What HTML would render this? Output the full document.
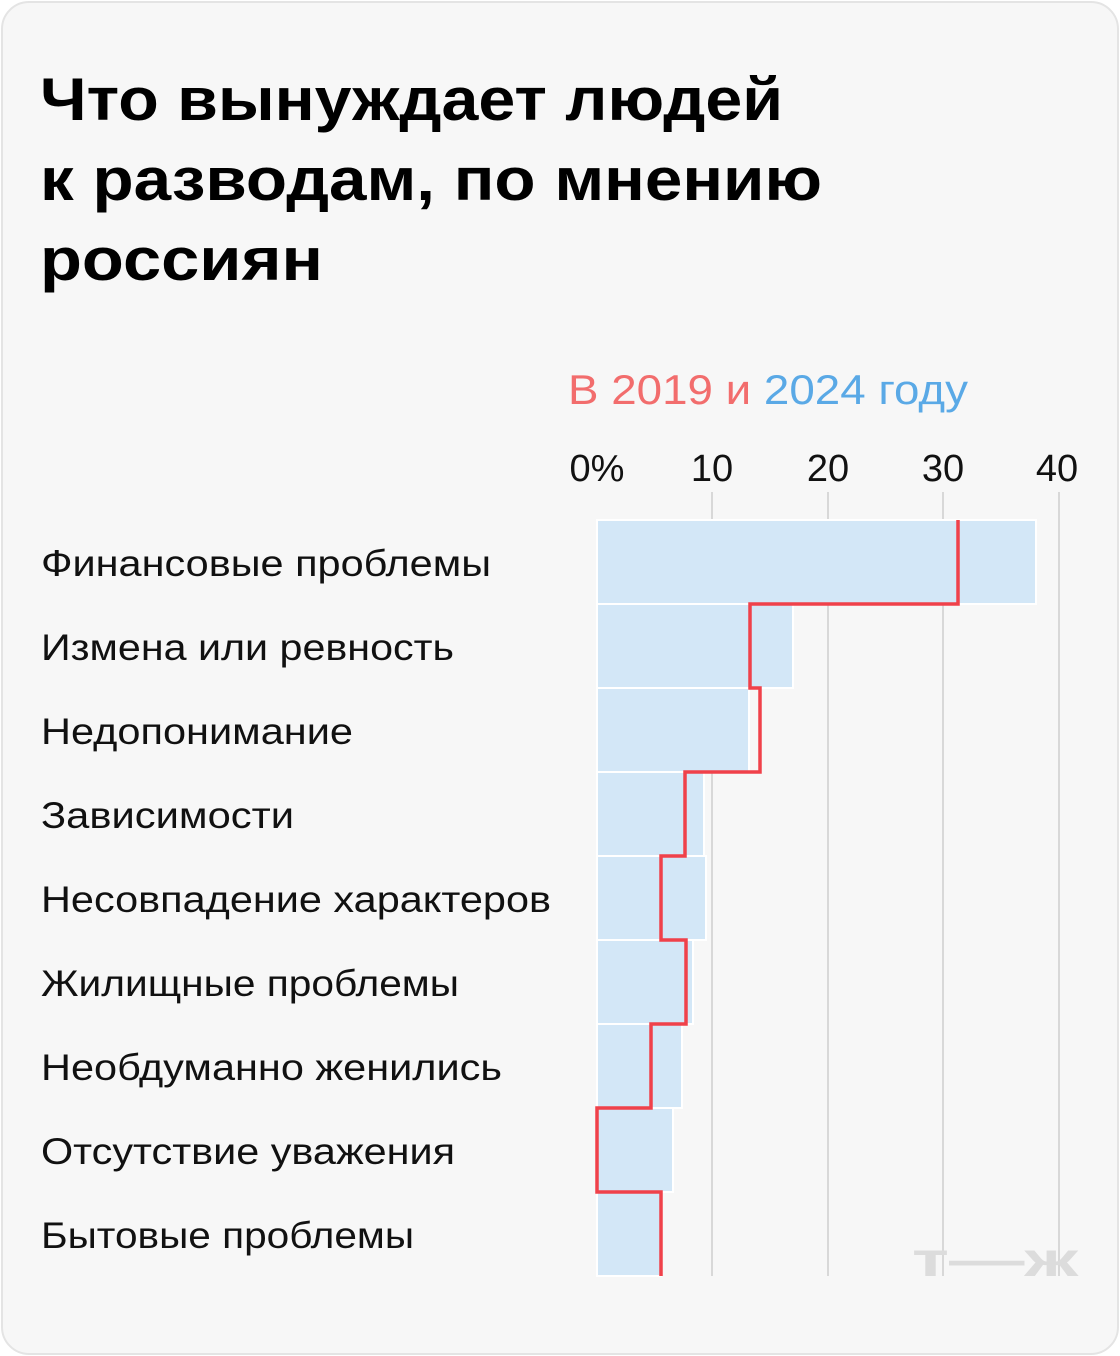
<!DOCTYPE html>
<html><head><meta charset="utf-8"><style>
html,body{margin:0;padding:0;background:#fff;}
.card{position:absolute;left:1px;top:1px;width:1114px;height:1350px;border:2px solid #e4e4e4;border-radius:28px;background:#f7f7f7;overflow:hidden;}
svg{position:absolute;left:0;top:0;}
</style></head><body>
<div class="card"></div>
<svg width="1120" height="1356" xmlns="http://www.w3.org/2000/svg" font-family="Liberation Sans, DejaVu Sans, sans-serif">
<g font-weight="bold" font-size="60" fill="#000" lengthAdjust="spacingAndGlyphs">
<text x="40" y="120" textLength="743" lengthAdjust="spacingAndGlyphs">Что вынуждает людей</text>
<text x="40" y="200" textLength="782" lengthAdjust="spacingAndGlyphs">к разводам, по мнению</text>
<text x="40" y="280" textLength="283" lengthAdjust="spacingAndGlyphs">россиян</text>
</g>
<text x="568" y="404" font-size="42" textLength="400" lengthAdjust="spacingAndGlyphs"><tspan fill="#f26d6d">В 2019 и </tspan><tspan fill="#5aa9e6">2024 году</tspan></text>
<g font-size="38" fill="#111" text-anchor="middle">
<text x="597" y="481">0%</text><text x="712" y="481">10</text><text x="828" y="481">20</text><text x="943" y="481">30</text><text x="1057" y="481">40</text>
</g>
<g stroke="#d8d8d8" stroke-width="2">
<line x1="712" y1="492" x2="712" y2="1276"/><line x1="828" y1="492" x2="828" y2="1276"/><line x1="943" y1="492" x2="943" y2="1276"/><line x1="1059" y1="492" x2="1059" y2="1276"/>
</g>
<g fill="#d3e7f7" stroke="#fff" stroke-width="2">
<rect x="597" y="520" width="439" height="84"/>
<rect x="597" y="604" width="196" height="84"/>
<rect x="597" y="688" width="152" height="84"/>
<rect x="597" y="772" width="107" height="84"/>
<rect x="597" y="856" width="109" height="84"/>
<rect x="597" y="940" width="96" height="84"/>
<rect x="597" y="1024" width="85" height="84"/>
<rect x="597" y="1108" width="76" height="84"/>
<rect x="597" y="1192" width="64" height="84"/>
</g>
<polyline fill="none" stroke="#f0414a" stroke-width="3.5" points="958,520 958,604 750,604 750,688 760,688 760,772 685,772 685,856 661,856 661,940 686,940 686,1024 651,1024 651,1108 597,1108 597,1192 661,1192 661,1276"/>
<g font-size="37" fill="#111">
<text x="41" y="576" textLength="450" lengthAdjust="spacingAndGlyphs">Финансовые проблемы</text>
<text x="41" y="660" textLength="413" lengthAdjust="spacingAndGlyphs">Измена или ревность</text>
<text x="41" y="744" textLength="312" lengthAdjust="spacingAndGlyphs">Недопонимание</text>
<text x="41" y="828" textLength="253" lengthAdjust="spacingAndGlyphs">Зависимости</text>
<text x="41" y="912" textLength="510" lengthAdjust="spacingAndGlyphs">Несовпадение характеров</text>
<text x="41" y="996" textLength="418" lengthAdjust="spacingAndGlyphs">Жилищные проблемы</text>
<text x="41" y="1080" textLength="461" lengthAdjust="spacingAndGlyphs">Необдуманно женились</text>
<text x="41" y="1164" textLength="414" lengthAdjust="spacingAndGlyphs">Отсутствие уважения</text>
<text x="41" y="1248" textLength="373" lengthAdjust="spacingAndGlyphs">Бытовые проблемы</text>
</g>
<text x="912" y="1276" font-size="48" font-weight="bold" fill="#dcdcdc" textLength="166" lengthAdjust="spacingAndGlyphs">т—ж</text>
</svg>
</body></html>
